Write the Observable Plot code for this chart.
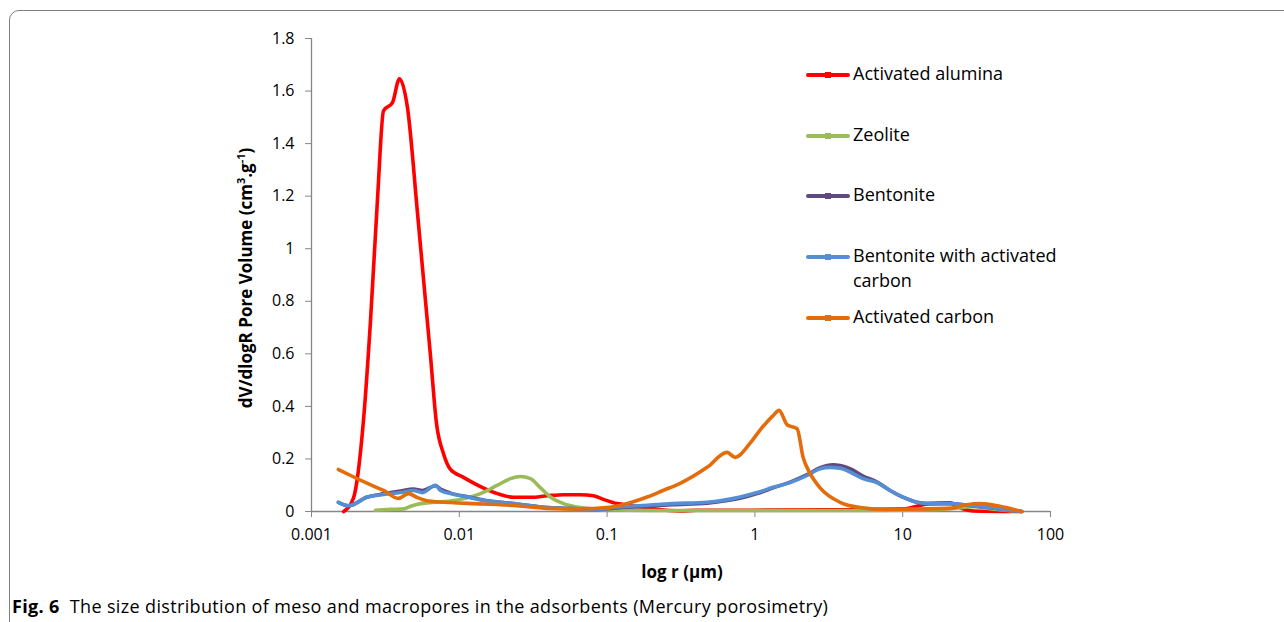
<!DOCTYPE html>
<html><head><meta charset="utf-8">
<script src="https://cdn.jsdelivr.net/npm/d3@7"></script>
<script src="https://cdn.jsdelivr.net/npm/@observablehq/plot@0.6"></script>
<style>
body{margin:0;background:#fff;}
#wrap{position:relative;width:1284px;height:622px;overflow:hidden;font-family:"Open Sans",sans-serif;color:#000;}
#frame{position:absolute;left:9px;top:10px;width:1320px;height:700px;border:1.5px solid #7f7f7f;border-radius:10px;box-sizing:border-box;}
#chart{position:absolute;left:0;top:0;}
.leg{position:absolute;left:806px;font-size:18px;line-height:25px;}
.leg .sw{position:absolute;left:0;top:12px;width:44px;height:4px;border-radius:2px;}
.leg .mk{position:absolute;left:19px;top:11px;width:6px;height:6px;}
.leg .tx{position:absolute;left:47px;top:0;white-space:nowrap;}
#ytitle{position:absolute;left:245px;top:278px;transform:translate(-50%,-50%) rotate(-90deg);font-weight:bold;font-size:17px;white-space:nowrap;}
#xtitle{position:absolute;left:682px;top:571px;transform:translate(-50%,-50%);font-weight:bold;font-size:17px;white-space:nowrap;}
#caption{position:absolute;left:12px;top:594px;font-family:"Open Sans",sans-serif;font-size:18px;letter-spacing:0.35px;white-space:nowrap;}
</style></head>
<body>
<div id="wrap">
<div id="frame"></div>
<div id="chart"></div>
<div id="legend"></div>
<div id="ytitle">dV/dlogR Pore Volume (cm<sup style="font-size:11px">3</sup>.g<sup style="font-size:11px">-1</sup>)</div>
<div id="xtitle">log r (μm)</div>
<div id="caption"><b>Fig. 6</b>&nbsp; The size distribution of meso and macropores in the adsorbents (Mercury porosimetry)</div>
</div>
<script>
const seriesNames = ["Activated alumina","Zeolite","Bentonite","Bentonite with activated carbon","Activated carbon"];
const seriesColors = ["#ff0000","#9bbb59","#5f4a80","#558ed5","#e46c0a"];

const xTicks = [0.001,0.01,0.1,1,10,100];
const xTickLabels = ["0.001","0.01","0.1","1","10","100"];
const yTicks = [0,0.2,0.4,0.6,0.8,1,1.2,1.4,1.6,1.8];
const yTickLabels = ["0","0.2","0.4","0.6","0.8","1","1.2","1.4","1.6","1.8"];

const aluminaR = [0.00165,0.00192,0.00225,0.00251,0.0028,0.00307,0.00353,0.00394,0.00446,0.00521,0.00638,0.00701,0.00782,0.00872,0.01067,0.01391,0.01814,0.02326,0.03031,0.03952,0.0507,0.06607,0.0809,0.0945,0.1169,0.1431,0.1954,0.3119,0.4,1,3,10,15.2,20.8,25,30,63.9];
const aluminaV = [0,0.05,0.35,0.73,1.195,1.525,1.556,1.647,1.537,1.138,0.594,0.335,0.22,0.16,0.13,0.095,0.068,0.054,0.054,0.06,0.064,0.064,0.06,0.046,0.03,0.023,0.012,0.002,0.005,0.005,0.006,0.01,0.03,0.033,0.012,0.002,0];

const zeoliteR = [0.00271,0.0034,0.0042,0.00468,0.00546,0.00669,0.00872,0.01391,0.01814,0.0222,0.02595,0.03031,0.03543,0.04142,0.0507,0.06607,0.0902,0.2,1,5,10,20,30,40,63.9];
const zeoliteV = [0.005,0.008,0.01,0.02,0.03,0.035,0.04,0.068,0.1,0.125,0.133,0.125,0.09,0.055,0.03,0.015,0.008,0.004,0.004,0.004,0.005,0.01,0.018,0.01,0];

const bentoniteR = [0.00152,0.00178,0.00239,0.00307,0.004,0.0049,0.00564,0.0069,0.00746,0.00872,0.01136,0.01551,0.019,0.02326,0.03952,0.06607,0.0861,0.1098,0.1865,0.2796,0.4749,0.7943,1.035,1.328,1.73,2.255,2.761,3.381,3.771,4.406,5.396,6.711,8.216,10,12.44,15.23,20.8,28.4,45.33,63.9];
const bentoniteV = [0.035,0.022,0.055,0.067,0.078,0.085,0.08,0.098,0.085,0.07,0.056,0.041,0.035,0.03,0.015,0.01,0.008,0.013,0.02,0.026,0.032,0.05,0.068,0.09,0.112,0.14,0.167,0.178,0.175,0.163,0.135,0.112,0.08,0.055,0.035,0.03,0.03,0.023,0.01,0];

const bentCarbonR = [0.00152,0.00178,0.00239,0.00307,0.004,0.0049,0.00564,0.0069,0.00746,0.00872,0.01136,0.01551,0.019,0.02326,0.03952,0.06607,0.0861,0.1098,0.1865,0.2796,0.4749,0.7943,1.035,1.328,1.73,2.255,2.761,3.227,3.771,4.406,5.396,6.711,8.216,10,12.44,15.23,20.8,28.4,45.33,63.9];
const bentCarbonV = [0.035,0.022,0.055,0.065,0.072,0.08,0.072,0.1,0.08,0.068,0.055,0.04,0.035,0.03,0.015,0.01,0.008,0.015,0.024,0.03,0.035,0.055,0.072,0.092,0.11,0.137,0.163,0.168,0.165,0.15,0.125,0.11,0.08,0.055,0.035,0.03,0.03,0.023,0.01,0];

const carbonR = [0.00152,0.00184,0.00239,0.00307,0.00388,0.00453,0.00521,0.00619,0.00872,0.01248,0.019,0.02326,0.03952,0.06607,0.1,0.1283,0.1865,0.2392,0.3119,0.4749,0.6484,0.7345,0.928,1.084,1.328,1.458,1.652,1.93,2.119,2.363,2.761,3.771,5.149,7.368,20.8,27.1,33.19,45.33,63.9];
const carbonV = [0.16,0.137,0.107,0.08,0.05,0.068,0.053,0.04,0.034,0.03,0.026,0.023,0.012,0.01,0.015,0.026,0.055,0.08,0.107,0.168,0.225,0.206,0.26,0.31,0.365,0.385,0.33,0.315,0.206,0.145,0.09,0.035,0.015,0.008,0.012,0.026,0.03,0.02,0];

const seriesR = [aluminaR, zeoliteR, bentoniteR, bentCarbonR, carbonR];
const seriesV = [aluminaV, zeoliteV, bentoniteV, bentCarbonV, carbonV];

const rows = [];
seriesNames.forEach((name, i) => {
  seriesR[i].forEach((r, j) => rows.push({series: name, r, v: seriesV[i][j]}));
});

const xLabelFor = d => xTickLabels[xTicks.findIndex(t => Math.abs(Math.log10(t) - Math.log10(d)) < 1e-6)];
const yLabelFor = d => yTickLabels[yTicks.findIndex(t => Math.abs(t - d) < 1e-6)];

const axisGray = "#868686";
const chart = Plot.plot({
  width: 1284, height: 622,
  marginLeft: 311, marginRight: 234, marginTop: 38, marginBottom: 111,
  style: {fontFamily: "'Open Sans', sans-serif", fontSize: "16px", color: "#000", background: "transparent", overflow: "visible"},
  x: {type: "log", domain: [0.001, 100]},
  y: {domain: [0, 1.8]},
  color: {domain: seriesNames, range: seriesColors},
  marks: [
    Plot.ruleY([0], {stroke: axisGray, strokeWidth: 1.3}),
    Plot.ruleX([0.001], {stroke: axisGray, strokeWidth: 1.3}),
    Plot.axisX({ticks: xTicks, tickFormat: xLabelFor, tickSize: 6, tickPadding: 11, stroke: axisGray, label: null, fontSize: 16}),
    Plot.axisY({ticks: yTicks, tickFormat: yLabelFor, tickSize: 6, tickPadding: 11, stroke: axisGray, label: null, fontSize: 16}),
    Plot.line(rows, {x: "r", y: "v", z: "series", stroke: "series", strokeWidth: 3.6, curve: "monotone-x", strokeLinejoin: "round", strokeLinecap: "round"})
  ]
});
document.getElementById("chart").appendChild(chart);

const legendTops = [61, 122, 182, 243, 304];
const legend = document.getElementById("legend");
seriesNames.forEach((name, i) => {
  const d = document.createElement("div");
  d.className = "leg";
  d.style.top = legendTops[i] + "px";
  const label = name === "Bentonite with activated carbon" ? "Bentonite with activated<br>carbon" : name;
  d.innerHTML = `<div class="sw" style="background:${seriesColors[i]}"></div><div class="mk" style="background:${seriesColors[i]}"></div><div class="tx">${label}</div>`;
  legend.appendChild(d);
});
</script>
</body></html>
